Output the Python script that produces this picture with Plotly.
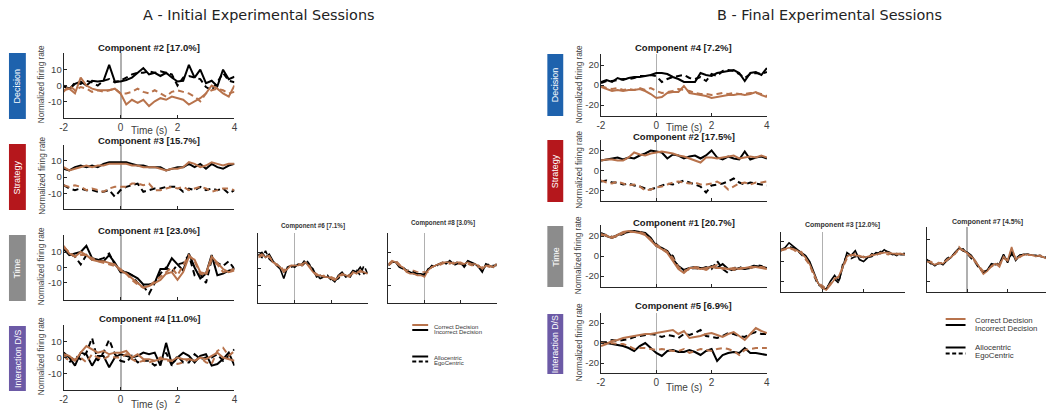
import plotly.graph_objects as go

W, H = 1049, 412

T = [-2.0, -1.8, -1.6, -1.4, -1.2, -1.0, -0.8, -0.6, -0.4, -0.2, 0.0, 0.2, 0.4, 0.6, 0.8, 1.0,
     1.2, 1.4, 1.6, 1.8, 2.0, 2.2, 2.4, 2.6, 2.8, 3.0, 3.2, 3.4, 3.6, 3.8, 4.0]
X_TICKS = [-2, 0, 2, 4]
X_TICK_TEXT = ["-2", "0", "2", "4"]
Y_TICKS_A = [-10, 0, 10]
Y_TICK_TEXT_A = ["-10", "0", "10"]
Y_TICKS_B = [-20, 0, 20]
Y_TICK_TEXT_B = ["-20", "0", "20"]

# ---------------- Panel A : Initial sessions ----------------
# Component #2 (Decision)
a2_inc_allo = [-0.5, -2, 1, 2.5, 0, 3, 2.5, 3, 13, 2.5, 2.5, 3.5, 5, 8, 11, 7, 8, 6, 8, 5, 2.5, 3, 13, 5, 10, 1.5, 3, -0.5, 10, 4, 5.5]
a2_inc_ego = [0, -3, 2, 1, 3, 2, 0, 3, 4, 2, 3, 5, 7, 8, 8, 9, 8, 9, 8, 7, 0, 5, 6, 5, 4, -1, -3, 2, 8, 3, 2]
a2_cor_allo = [-3, -2, -5, 5, 0, -2, -3, -3, -3, -2, -5, -12, -9, -11, -9, -13, -10, -8, -9, -7, -8, -9, -12, -10, -8, -5, 0, -2, -5, -7, 0]
a2_cor_ego = [-4, 0, -3, -1, -2, -4, -3, -4, -3, -2, -5, -5, -4, -2, -4, -5, -3, -5, -7, -4, -3, -4, -5, -7, -10, -5, -3, -2, -3, -5, -4]
# Component #3 (Strategy)
a3_inc_allo = [5, 4, 6, 7, 6, 7, 6, 8, 9, 9, 9, 9, 8, 7, 7, 6, 6, 6, 4, 5, 6, 6, 8, 6, 8, 5, 8, 6, 5, 7, 8]
a3_inc_ego = [-5, -7, -8, -7, -8, -8, -9, -9, -8, -12, -8, -6, -5, -4, -9, -8, -7, -7, -6, -6, -6, -9, -7, -8, -6, -8, -7, -8, -7, -10, -8]
a3_cor_allo = [6, 4, 5, 6, 7, 6, 7, 7, 8, 8, 8, 8, 7, 7, 6, 6, 6, 5, 4, 5, 5, 6, 9, 8, 6, 7, 9, 8, 7, 8, 8]
a3_cor_ego = [-5, -6, -5, -6, -8, -7, -8, -9, -7, -6, -6, -6, -4, -4, -5, -4, -8, -8, -7, -6, -7, -6, -8, -7, -6, -7, -9, -8, -7, -7, -8]
# Component #1 (Time)
a1_inc_allo = [12, 8, 9, 10, 14, 6, 5, 4, 8, 3, -3, -3, -5, -7, -11, -11, -10, -1, -1, 6, 2, -2, 9, 0, -7, -4, 8, -5, -4, -2, -1]
a1_inc_ego = [13, 9, 7, 2, 8, 5, 5, 6, 9, 2, -2, -3, -5, -10, -12, -17, -10, -4, 0, -3, 2, 3, 8, -5, -4, -10, 5, 3, 1, 4, -1]
a1_cor_allo = [14, 9, 7, 10, 8, 5, 4, 4, 3, 2, -2, -4, -7, -10, -13, -12, -10, -8, -4, -3, -8, -3, 7, 5, -3, -4, 7, 3, -1, -3, -2]
a1_cor_ego = [13, 10, 7, 8, 8, 6, 4, 3, 2, 1, -1, -4, -8, -11, -13, -12, -9, -6, -3, 0, -5, 2, 8, 4, -4, -5, 5, 2, -3, -2, -1]
# Component #4 (Interaction D/S)
a4_inc_allo = [3, 0, -5, 3, 2, -5, 1, 1, -6, 0, 2, 1, 0, 1, 3, 2, 3, -5, 9, -4, 0, 3, 1, -3, 1, 2, -5, -4, -1, 3, -5]
a4_inc_ego = [2, -3, 1, -1, 3, 12, -2, 3, 11, 2, -2, -3, 1, -3, -2, -2, -5, -3, 3, -5, 1, -3, -3, 2, -1, 0, 0, 2, -2, 1, 5]
a4_cor_allo = [2, 1, -2, 3, 7, 5, 3, 4, 2, 3, 3, 4, 0, 2, -1, -1, -2, -1, -1, -2, 0, -1, -1, -2, 0, -1, 1, 3, 0, -1, -2]
a4_cor_ego = [1, -2, -1, 0, -3, 2, 0, -1, 1, 0, 0, 2, -1, -3, -2, -3, -2, 0, -2, -2, -4, -3, -1, -2, 0, -3, -4, 4, 6, 1, 4]
# Component #6 (Time, extra)
a6_inc_allo = [8, 10, 7, 9, 5, 2, 0, -6, 1, 2, 1, 3, 2, 4, 2, 0, -5, -4, -5, -5, -6, -8, -4, -2, -5, -4, -1, -2, 1, -3, -2]
a6_inc_ego = [9, 7, 11, 6, 4, 3, 1, -2, 0, 1, 2, 2, 3, 6, 3, -1, -4, -6, -5, -4, -7, -7, -6, -3, -4, -6, -2, -1, -4, 2, -3]
a6_cor_allo = [8, 9, 7, 8, 4, 3, 1, -2, 0, 2, 2, 2, 3, 4, 1, -2, -4, -4, -5, -5, -6, -7, -5, -3, -4, -5, -2, -3, -1, -2, -3]
a6_cor_ego = [7, 8, 9, 7, 5, 2, 2, -1, 1, 2, 2, 3, 2, 3, 2, -2, -3, -5, -4, -6, -5, -6, -4, -4, -3, -4, -3, -2, -2, -2, -3]
# Component #8 (Time, extra)
a8_inc_allo = [3, 4, 4, 1, 0, -1, -2, -3, -3, -3, -4, 0, 1, 2, 3, 4, 3, 5, 3, 4, 3, 2, 5, 4, 3, 1, -2, 3, 2, 1, 3]
a8_inc_ego = [2, 4, 5, 2, 1, -1, -1, -2, -3, -4, -3, -1, 2, 1, 3, 3, 4, 4, 2, 3, 4, 1, 4, 3, 2, 2, -1, 2, 3, 2, 2]
a8_cor_allo = [3, 5, 4, 2, 1, -2, -3, -3, -4, -4, -5, -1, 1, 2, 3, 4, 4, 4, 3, 4, 4, 3, 4, 3, 3, 2, 0, 2, 2, 1, 3]
a8_cor_ego = [2, 4, 5, 3, 0, -1, -1, -1, -2, -2, -2, -2, 1, 2, 2, 3, 4, 3, 4, 3, 3, 3, 3, 2, 2, 1, 1, 2, 1, 2, 2]

# ---------------- Panel B : Final sessions ----------------
# Component #4 (Decision)
b4_inc_allo = [3, 5, 3, 7, 5, 7, 8, 8, 9, 10, 12, 12, 11, 8, 6, 3, 3, 3, 12, 10, 9, 12, 13, 14, 15, 12, 4, 12, 13, 10, 17]
b4_inc_ego = [2, 4, 4, 5, 6, 6, 7, 9, 9, 10, 9, 3, 6, 8, 9, 10, 7, 6, 8, 4, 11, 9, 14, 15, 14, 11, 7, 11, 12, 11, 13]
b4_cor_allo = [-2, -4, -6, -5, -6, -5, -5, -4, -6, -9, -13, -12, -8, -7, -7, -1, -8, -9, -10, -11, -13, -12, -11, -10, -10, -9, -10, -9, -7, -10, -12]
b4_cor_ego = [-1, -3, -4, -3, -5, -4, -5, -3, -5, -3, -6, -8, -7, -6, -4, -5, -6, -8, -9, -9, -10, -9, -8, -9, -8, -9, -9, -8, -8, -9, -11]
# Component #2 (Strategy)
b2_inc_allo = [10, 11, 12, 13, 11, 13, 12, 15, 17, 20, 19, 18, 12, 16, 15, 12, 14, 15, 12, 15, 20, 13, 11, 14, 12, 11, 19, 11, 13, 14, 12]
b2_inc_ego = [-11, -10, -12, -12, -14, -13, -15, -16, -18, -19, -17, -15, -13, -14, -12, -10, -12, -14, -16, -22, -15, -14, -13, -11, -8, -12, -14, -12, -13, -14, -15]
b2_cor_allo = [10, 11, 11, 10, 10, 13, 18, 16, 15, 17, 18, 19, 18, 17, 15, 14, 12, 10, 8, 13, 13, 12, 13, 14, 15, 12, 13, 14, 13, 15, 13]
b2_cor_ego = [-10, -12, -13, -11, -13, -15, -14, -16, -20, -19, -17, -16, -14, -12, -11, -12, -13, -12, -14, -14, -13, -11, -14, -19, -16, -13, -12, -14, -12, -12, -11]
# Component #1 (Time)
b1_inc_allo = [23, 20, 18, 21, 23, 24, 25, 24, 23, 18, 10, 8, 5, -3, -10, -14, -12, -11, -12, -13, -10, -12, -8, -13, -14, -12, -13, -12, -10, -11, -12]
b1_inc_ego = [22, 21, 19, 20, 22, 25, 24, 24, 22, 17, 11, 7, 4, 0, -12, -15, -13, -12, -13, -11, -13, -5, -13, -17, -12, -11, -13, -11, -9, -10, -13]
b1_cor_allo = [22, 20, 18, 21, 24, 25, 24, 23, 21, 16, 10, 7, 3, -5, -13, -17, -12, -12, -13, -12, -11, -12, -12, -13, -12, -13, -12, -11, -11, -12, -13]
b1_cor_ego = [21, 21, 19, 20, 23, 24, 24, 24, 22, 17, 11, 8, 4, -2, -11, -15, -13, -11, -12, -14, -11, -9, -13, -12, -14, -12, -12, -12, -11, -11, -12]
# Component #3 (Time, extra)
b3_inc_allo = [12, 14, 19, 15, 12, 9, 6, 0, -12, -22, -27, -28, -20, -14, -20, -5, 9, 6, 11, 2, 0, 4, 5, 9, 8, 12, 9, 7, 8, 7, 7]
b3_inc_ego = [11, 13, 15, 14, 11, 7, 3, -2, -14, -24, -25, -27, -22, -18, -22, -2, 6, 3, 5, 4, 5, 3, 8, 6, 10, 11, 10, 8, 6, 9, 8]
b3_cor_allo = [12, 13, 14, 13, 11, 8, 4, -3, -13, -22, -27, -29, -24, -18, -15, -4, 5, 7, 6, 6, 4, 5, 6, 7, 8, 9, 9, 8, 8, 8, 7]
b3_cor_ego = [11, 12, 13, 12, 9, 10, 2, -4, -15, -21, -25, -28, -22, -17, -16, -6, 3, 6, 8, 5, 5, 4, 7, 6, 9, 8, 7, 9, 7, 8, 7]
# Component #7 (Time, extra)
b7_inc_allo = [1, -2, -5, -2, -4, 0, 3, 8, 12, 9, 8, 5, -1, -7, -12, -9, -3, -4, -3, 6, -2, 9, 0, 5, 6, 6, 5, 5, 4, 3, 2]
b7_inc_ego = [0, -3, -4, -3, -2, 2, 4, 7, 10, 11, 6, 2, -2, -8, -11, -8, -5, -2, -4, 3, 1, 6, 2, 5, 5, 6, 5, 4, 5, 4, 3]
b7_cor_allo = [-1, -2, -4, -2, -3, 1, 3, 7, 11, 10, 7, 4, 0, -6, -13, -10, -5, -3, -6, 4, 0, 13, 1, 4, 5, 6, 5, 4, 5, 3, 1]
b7_cor_ego = [0, -1, -3, -3, -2, 0, 4, 6, 13, 9, 7, 3, -1, -5, -10, -9, -6, -4, -3, 2, 0, 11, 2, 3, 6, 5, 5, 5, 4, 3, 2]
# Component #5 (Interaction D/S)
b5_inc_allo = [1, 0, -1, -2, -3, -5, -8, -3, 0, -5, -10, -13, -8, -7, -9, -9, -7, -9, -12, -8, -6, -18, -12, -10, -9, -10, -5, -10, -10, -11, -12]
b5_inc_ego = [0, 1, 3, 2, 3, 4, 6, 7, 8, 9, 8, 6, 8, 7, 5, 9, 8, 10, 13, 7, 6, 5, 7, 10, 9, 7, 6, 9, 11, 9, 9]
b5_cor_allo = [0, -1, 2, 3, 5, 6, 7, 8, 9, 9, 10, 11, 12, 13, 9, 12, 5, 6, 7, 9, 10, 8, 6, 9, 11, 7, 3, 9, 15, 12, 10]
b5_cor_ego = [-3, -1, 0, -1, -1, -3, -6, -5, -5, -6, -7, -6, -7, -8, -8, -6, -10, -8, -6, -7, -8, -6, -5, -6, -8, -12, -7, -6, -5, -5, -5]

CATEGORIES = ["Decision", "Strategy", "Time", "Interaction D/S"]
CAT_COLORS = {"Decision": "#1e62ad", "Strategy": "#b5171c", "Time": "#8c8c8c", "Interaction D/S": "#6c5aa6"}
LEGEND_LABELS = ["Correct Decision", "Incorrect Decision", "Allocentric", "EgoCentric"]
BROWN = "#b8734c"
BLACK = "#000000"
AX = "#262626"
TXT = "#404040"
FONT = "Liberation Sans, Arial, sans-serif"

A_TICKS = (Y_TICKS_A, Y_TICK_TEXT_A)
B_TICKS = (Y_TICKS_B, Y_TICK_TEXT_B)

# panel geometry in pixels: (x0, x1, y0, y1)
panels = [
    dict(title="Component #2 [17.0%]", box=(60, 232, 53, 118), yr=[-20.5, 20.5], yt=A_TICKS, ylab=True, xlab=True,
         data=(a2_inc_allo, a2_inc_ego, a2_cor_allo, a2_cor_ego), ttl_y=47, side=False, zw=2),
    dict(title="Component #3 [15.7%]", box=(60, 232, 145, 209), yr=[-19.5, 19.5], yt=A_TICKS, ylab=True, xlab=False,
         data=(a3_inc_allo, a3_inc_ego, a3_cor_allo, a3_cor_ego), ttl_y=141, side=False, zw=2),
    dict(title="Component #1 [23.0%]", box=(60, 232, 235, 300), yr=[-21, 21], yt=A_TICKS, ylab=True, xlab=False,
         data=(a1_inc_allo, a1_inc_ego, a1_cor_allo, a1_cor_ego), ttl_y=230, side=False, zw=2),
    dict(title="Component #4 [11.0%]", box=(60, 232, 325, 390), yr=[-20, 20], yt=A_TICKS, ylab=True, xlab=True,
         data=(a4_inc_allo, a4_inc_ego, a4_cor_allo, a4_cor_ego), ttl_y=318, side=False, zw=2),
    dict(title="Component #6 [7.1%]", box=(256, 366, 233, 303), yr=[-21, 22], yt=A_TICKS, ylab=False, xlab=False,
         data=(a6_inc_allo, a6_inc_ego, a6_cor_allo, a6_cor_ego), ttl_y=226, side=True, zw=1, tfs=6.3),
    dict(title="Component #8 [3.0%]", box=(387, 496, 233, 303), yr=[-21, 22], yt=A_TICKS, ylab=False, xlab=False,
         data=(a8_inc_allo, a8_inc_ego, a8_cor_allo, a8_cor_ego), ttl_y=223, side=True, zw=1, tfs=6.3),
    dict(title="Component #4 [7.2%]", box=(601, 768, 54, 116), yr=[-31, 31], yt=B_TICKS, ylab=True, xlab=True,
         data=(b4_inc_allo, b4_inc_ego, b4_cor_allo, b4_cor_ego), ttl_y=47, side=False, zw=1),
    dict(title="Component #2 [17.5%]", box=(601, 768, 140, 201), yr=[-30.5, 30.5], yt=B_TICKS, ylab=True, xlab=False,
         data=(b2_inc_allo, b2_inc_ego, b2_cor_allo, b2_cor_ego), ttl_y=137, side=False, zw=1),
    dict(title="Component #1 [20.7%]", box=(601, 768, 225, 287), yr=[-31, 31], yt=B_TICKS, ylab=True, xlab=False,
         data=(b1_inc_allo, b1_inc_ego, b1_cor_allo, b1_cor_ego), ttl_y=222, side=False, zw=1),
    dict(title="Component #5 [6.9%]", box=(601, 768, 313, 373), yr=[-30, 30], yt=B_TICKS, ylab=True, xlab=True,
         data=(b5_inc_allo, b5_inc_ego, b5_cor_allo, b5_cor_ego), ttl_y=305, side=False, zw=1),
    dict(title="Component #3 [12.0%]", box=(782, 907, 232, 292), yr=[-31, 30], yt=B_TICKS, ylab=False, xlab=False,
         data=(b3_inc_allo, b3_inc_ego, b3_cor_allo, b3_cor_ego), ttl_y=225, side=True, zw=1, tfs=7),
    dict(title="Component #7 [4.5%]", box=(929, 1051, 227, 292), yr=[-30, 32], yt=B_TICKS, ylab=False, xlab=False,
         data=(b7_inc_allo, b7_inc_ego, b7_cor_allo, b7_cor_ego), ttl_y=222, side=True, zw=1.5, tfs=7),
]

fig = go.Figure()
layout = dict(width=W, height=H, margin=dict(l=0, r=0, t=0, b=0), autosize=False,
              paper_bgcolor="white", plot_bgcolor="white", showlegend=False, hovermode=False,
              font=dict(family=FONT, color=TXT))
annotations = []
shapes = []


def px(x):
    return x / W


def py(y):
    return 1 - y / H


styles = [(BLACK, "solid"), (BLACK, "6px,4px"), (BROWN, "solid"), (BROWN, "6px,4px")]

for i, p in enumerate(panels, start=1):
    x0, x1, y0, y1 = p["box"]
    xr = [-2, 4]
    if x1 > W:
        xr = [-2, -2 + 6 * (W - x0) / (x1 - x0)]
        x1 = W
    xn = "xaxis" if i == 1 else f"xaxis{i}"
    yn = "yaxis" if i == 1 else f"yaxis{i}"
    xs = "x" if i == 1 else f"x{i}"
    ys = "y" if i == 1 else f"y{i}"
    layout[xn] = dict(domain=[px(x0), px(x1)], range=xr, anchor=ys, showgrid=False,
                      zeroline=True, zerolinecolor="#b0b0b0", zerolinewidth=p["zw"],
                      showline=True, linecolor=AX, linewidth=1, ticks="inside", ticklen=3, tickcolor=AX,
                      tickmode="array", tickvals=X_TICKS, ticktext=X_TICK_TEXT, showticklabels=p["xlab"],
                      tickfont=dict(size=10, color=TXT, family=FONT))
    layout[yn] = dict(domain=[py(y1), py(y0)], range=p["yr"], anchor=xs, showgrid=False, zeroline=False,
                      showline=True, linecolor=AX, linewidth=1, ticks="inside", ticklen=3, tickcolor=AX,
                      tickmode="array", tickvals=p["yt"][0], ticktext=p["yt"][1], showticklabels=p["ylab"],
                      ticklabelstandoff=-1,
                      tickfont=dict(size=9.5, color=TXT, family=FONT))
    for (col, dash), ser in zip(styles, p["data"]):
        fig.add_trace(go.Scatter(x=T, y=ser, mode="lines", xaxis=xs, yaxis=ys,
                                 line=dict(color=col, width=2 if not p["side"] else 1.6, dash=dash),
                                 hoverinfo="skip"))
    if p["side"]:
        annotations.append(dict(text=f"<b>{p['title']}</b>", x=px((p["box"][0] + p["box"][1]) / 2), y=py(p["ttl_y"]),
                                xref="paper", yref="paper", showarrow=False, xanchor="center", yanchor="middle",
                                font=dict(size=p["tfs"], color="#333333", family=FONT)))
    else:
        annotations.append(dict(text=f"<b>{p['title']}</b>", x=px((x0 + x1) / 2), y=py(p["ttl_y"]),
                                xref="paper", yref="paper", showarrow=False, xanchor="center", yanchor="middle",
                                font=dict(size=9.5, color="#1a1a1a", family=FONT)))
        annotations.append(dict(text="Normalized firing rate", x=px(x0 - 22), y=py((y0 + y1) / 2 - 1),
                                xref="paper", yref="paper", showarrow=False, textangle=-90,
                                xanchor="center", yanchor="middle",
                                font=dict(size=8.2, color=TXT, family=FONT)))
        if p["xlab"]:
            ty = y1 + 12 if y1 < 300 else min(y1 + 14, 404)
            annotations.append(dict(text="Time (s)", x=px((x0 + x1) / 2), y=py(ty),
                                    xref="paper", yref="paper", showarrow=False, xanchor="center", yanchor="middle",
                                    font=dict(size=10, color=TXT, family=FONT)))

# category side boxes
side_boxes = [
    ("Decision", 5, 22, 53, 119), ("Strategy", 5, 22, 144, 210), ("Time", 5, 22, 235, 301), ("Interaction D/S", 5, 22, 326, 391),
    ("Decision", 547, 563, 54, 116), ("Strategy", 547, 563, 140, 202), ("Time", 547, 563, 226, 287), ("Interaction D/S", 547, 563, 314, 374),
]
for name, bx0, bx1, by0, by1 in side_boxes:
    shapes.append(dict(type="rect", xref="paper", yref="paper", x0=px(bx0), x1=px(bx1), y0=py(by1), y1=py(by0),
                       fillcolor=CAT_COLORS[name], line=dict(width=0), layer="below"))
    annotations.append(dict(text=name, x=px((bx0 + bx1) / 2), y=py((by0 + by1) / 2), xref="paper", yref="paper",
                            showarrow=False, textangle=-90, xanchor="center", yanchor="middle",
                            font=dict(size=9 if name != "Interaction D/S" else 8.8, color="white", family=FONT)))

# main titles
annotations.append(dict(text="A - Initial Experimental Sessions", x=px(257), y=py(15), xref="paper", yref="paper",
                        showarrow=False, xanchor="center", yanchor="middle",
                        font=dict(size=14.4, color="#222222", family="DejaVu Sans, Verdana, sans-serif")))
annotations.append(dict(text="B - Final Experimental Sessions", x=px(831), y=py(15), xref="paper", yref="paper",
                        showarrow=False, xanchor="center", yanchor="middle",
                        font=dict(size=14.4, color="#222222", family="DejaVu Sans, Verdana, sans-serif")))

# legends (keys drawn as layout shapes)
legend_styles = [(BROWN, "solid"), (BLACK, "solid"), (BLACK, "solid"), (BLACK, "4px,2.5px")]
legA = dict(lx0=411, lx1=427, tx=431, ys=[325, 330, 356.5, 361.5], ty=[326.5, 332, 357.5, 363], fs=6.0)
legB = dict(lx0=948, lx1=968, tx=976, ys=[319, 325, 347.5, 353.5], ty=[320.5, 328, 347.5, 355], fs=7.8)
for lg in (legA, legB):
    for name, (col, dash), yl, yt in zip(LEGEND_LABELS, legend_styles, lg["ys"], lg["ty"]):
        shapes.append(dict(type="line", xref="paper", yref="paper", x0=px(lg["lx0"]), x1=px(lg["lx1"]),
                           y0=py(yl), y1=py(yl), line=dict(color=col, width=2, dash=dash)))
        annotations.append(dict(text=name, x=px(lg["tx"]), y=py(yt), xref="paper", yref="paper", showarrow=False,
                                xanchor="left", yanchor="middle",
                                font=dict(size=lg["fs"], color="#333333", family=FONT)))

layout["annotations"] = annotations
layout["shapes"] = shapes
fig.update_layout(**layout)
fig.write_html("out.html", config={"displayModeBar": False, "staticPlot": True},
               post_script="document.body.style.margin='0px';document.body.style.overflow='hidden';")
